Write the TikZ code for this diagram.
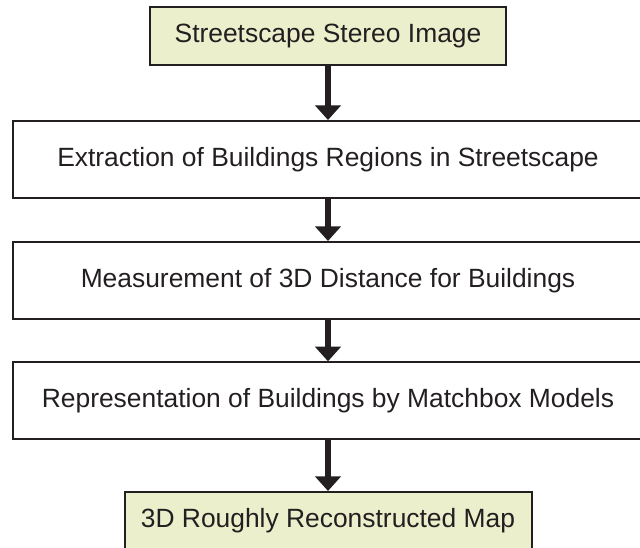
\documentclass[tikz,border=0pt]{standalone}
\usepackage{fontspec}
\setmainfont{Liberation Sans}
\usepackage{tikz}
\usetikzlibrary{positioning, arrows.meta}
\definecolor{inkgray}{RGB}{35,31,32}
\definecolor{paleolive}{RGB}{235,239,204}

\begin{document}
\begin{tikzpicture}[
  font=\fontsize{19.8}{23}\selectfont, text=inkgray,
  termbox/.style={draw=inkgray, line width=1.5pt, fill=paleolive, minimum height=43.5pt},
  procbox/.style={draw=inkgray, line width=1.5pt, minimum width=472.5pt, minimum height=57.75pt},
  flow/.style={draw=inkgray, line width=4.5pt, -{Triangle[width=19pt,length=11pt]}}]
\path[use as bounding box] (0,0) rectangle (480pt,-411pt);
\clip (0,0) rectangle (480pt,-411pt);
\node[termbox, minimum width=267pt] (img) at (246pt,-27pt) {Streetscape Stereo Image};
\node[procbox, below=40.5pt of img] (extr) {Extraction of Buildings Regions in Streetscape};
\node[procbox, below=31.5pt of extr] (meas) {Measurement of 3D Distance for Buildings};
\node[procbox, below=31pt of meas] (repr) {Representation of Buildings by Matchbox Models};
\node[termbox, below=38pt of repr, minimum width=305.25pt] (map) {3D Roughly Reconstructed Map};
\draw[flow] (img) -- (extr);
\draw[flow] (extr) -- (meas);
\draw[flow] (meas) -- (repr);
\draw[flow] (repr) -- (map);
\end{tikzpicture}
\end{document}
